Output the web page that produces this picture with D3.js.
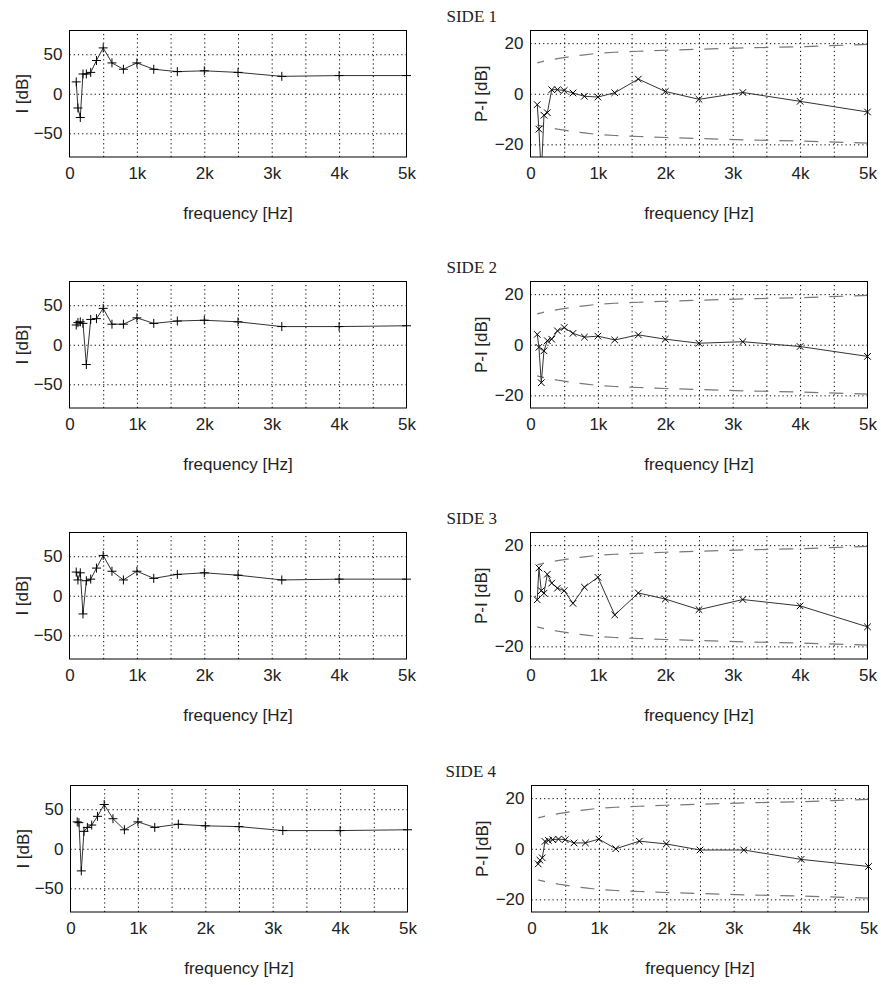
<!DOCTYPE html>
<html>
<head>
<meta charset="utf-8">
<script src="https://cdn.jsdelivr.net/npm/d3@7/dist/d3.min.js"></script>
<style>
  html, body { margin: 0; padding: 0; background: #fff; }
  svg { display: block; }
  .tick text { font-family: "Liberation Sans", Arial, Helvetica, sans-serif; }
</style>
</head>
<body>
<script>
// ---- data ----
const freqs = [100,125,160,200,250,315,400,500,630,800,1000,1250,1600,2000,2500,3150,4000,5000];
const sideTitles = ["SIDE 1","SIDE 2","SIDE 3","SIDE 4"];

const side1I  = [15,-18,-30,25,25,27,42,58,39,31,39,31,28,29,27,22,23,23];
const side2I  = [25,28,29,27,-25,32,33,46,26,26,34,27,30,31,29,23,23,24];
const side3I  = [30,20,29,-23,19,21,35,51,31,20,31,22,27,29,26,20,21,21];
const side4I  = [34,33,-28,22,27,30,41,56,38,24,34,27,31,29,28,23,23,24];

const side1PI = [-4.3,-14,-32,-8.5,-7.5,1.6,1.6,1.3,0.3,-1,-1.3,0.4,5.8,0.9,-2.2,0.5,-3,-7.2];
const side2PI = [4.1,-1,-15,-2.4,1.6,2.2,5.5,6.8,4.5,3,3.4,1.9,3.9,2.2,0.6,1.2,-0.7,-4.6];
const side3PI = [-1.6,11,2,1,8.5,5,3,2,-3,3.4,7.3,-7.6,1.1,-1.3,-5.5,-1.5,-4,-12.3];
const side4PI = [-6,-4.5,-3.6,2.9,3.3,3.6,3.8,3.6,2.3,2.3,3.8,0,3,1.9,-0.5,-0.5,-4.2,-7];

const limitUpper = [12.2,12.4,12.6,12.9,13.2,13.5,13.9,14.3,14.8,15.4,16.0,16.4,16.8,17.2,17.6,18.1,18.6,19.5];
const limitLower = [-12.3,-12.5,-12.7,-13.0,-13.3,-13.6,-14.0,-14.4,-14.9,-15.5,-16.1,-16.5,-16.9,-17.3,-17.7,-18.2,-18.7,-19.5];

const xTicks = [0,1000,2000,3000,4000,5000];
const xGrid = [500,1000,1500,2000,2500,3000,3500,4000,4500];
const yTicksI = [-50,0,50];
const yTicksPI = [-20,0,20];
const yDomainI = [-80,80];
const yDomainPI = [-25,25];

const iSeries = [side1I, side2I, side3I, side4I];
const piSeries = [side1PI, side2PI, side3PI, side4PI];

// ---- layout ----
const W = 881, H = 985;
const rowTops = [30.5, 281.5, 532.5, 785.5];
const rowShift = [0, 0, 0, 1];
const plotW = 337, plotH = 126.5;
const leftX = 69.5, rightX = 530.5;

const svg = d3.select("body").append("svg").attr("width", W).attr("height", H);
const sans = '"Liberation Sans", Arial, Helvetica, sans-serif';

const fmtK = d => d === 0 ? "0" : (d / 1000) + "k";

function panel(x0, y0, values, yDomain, yTicks, ylabel, marker, withLimits, idx) {
  const g = svg.append("g").attr("transform", `translate(${x0},${y0})`);
  const x = d3.scaleLinear().domain([0, 5000]).range([0, plotW]);
  const y = d3.scaleLinear().domain(yDomain).range([plotH, 0]);

  const clipId = "clip" + idx;
  g.append("clipPath").attr("id", clipId).append("rect")
    .attr("x", 0).attr("y", 0).attr("width", plotW).attr("height", plotH);

  // grid
  const gx = g.append("g").attr("transform", `translate(0,${plotH})`)
    .call(d3.axisBottom(x).tickValues(xGrid).tickSize(-plotH).tickFormat(""));
  gx.select(".domain").remove();
  gx.selectAll("line").attr("stroke", "#000").attr("stroke-width", 1).attr("stroke-dasharray", "1.2,3");
  const gy = g.append("g")
    .call(d3.axisLeft(y).tickValues(yTicks).tickSize(-plotW).tickFormat(""));
  gy.select(".domain").remove();
  gy.selectAll("line").attr("stroke", "#000").attr("stroke-width", 1).attr("stroke-dasharray", "1.2,3");

  // limit lines
  if (withLimits) {
    [limitUpper, limitLower].forEach(arr => {
      g.append("path")
        .attr("d", d3.line().x((d, i) => x(freqs[i])).y(d => y(d))(arr))
        .attr("fill", "none").attr("stroke", "#777").attr("stroke-width", 1.2)
        .attr("stroke-dasharray", "14,11").attr("stroke-dashoffset", 7)
        .attr("clip-path", `url(#${clipId})`);
    });
  }

  // data line
  g.append("path")
    .attr("d", d3.line().x((d, i) => x(freqs[i])).y(d => y(d))(values))
    .attr("fill", "none").attr("stroke", "#333").attr("stroke-width", 1)
    .attr("clip-path", `url(#${clipId})`);

  // markers
  const m = marker === "+" ? "M-4.5,0H4.5M0,-4.5V4.5" : "M-3.3,-3.3L3.3,3.3M-3.3,3.3L3.3,-3.3";
  g.selectAll(".mk").data(values.map((v, i) => [freqs[i], v]).filter(d => d[1] >= yDomain[0] && d[1] <= yDomain[1]))
    .enter().append("path")
    .attr("transform", d => `translate(${x(d[0])},${y(d[1])})`)
    .attr("d", m).attr("stroke", "#000").attr("stroke-width", 1).attr("fill", "none");

  // frame
  g.append("rect").attr("x", 0).attr("y", 0).attr("width", plotW).attr("height", plotH)
    .attr("fill", "none").attr("stroke", "#000").attr("stroke-width", 1);

  // tick labels
  const ax = g.append("g").attr("transform", `translate(0,${plotH})`)
    .call(d3.axisBottom(x).tickValues(xTicks).tickSize(0).tickPadding(10).tickFormat(fmtK));
  ax.select(".domain").remove();
  ax.selectAll("text").attr("font-size", 17).attr("fill", "#222").attr("font-family", sans);
  const ay = g.append("g")
    .call(d3.axisLeft(y).tickValues(yTicks).tickSize(0).tickPadding(7));
  ay.select(".domain").remove();
  ay.selectAll("text").attr("font-size", 17).attr("fill", "#222").attr("font-family", sans);

  // axis labels
  g.append("text").attr("x", plotW / 2).attr("y", plotH + 56)
    .attr("text-anchor", "middle").attr("dominant-baseline", "central")
    .attr("font-family", sans).attr("font-size", 17).attr("fill", "#222")
    .text("frequency [Hz]");
  g.append("text")
    .attr("transform", `translate(${ylabel === "I [dB]" ? -47.5 : -49},${plotH / 2}) rotate(-90)`)
    .attr("text-anchor", "middle").attr("dominant-baseline", "central")
    .attr("font-family", sans).attr("font-size", 17).attr("fill", "#222")
    .text(ylabel);
}

rowTops.forEach((top, r) => {
  const s = rowShift[r];
  panel(leftX + s, top, iSeries[r], yDomainI, yTicksI, "I [dB]", "+", false, "L" + r);
  panel(rightX + s, top, piSeries[r], yDomainPI, yTicksPI, "P-I [dB]", "x", true, "R" + r);
  svg.append("text").attr("x", 446.5 - s).attr("y", top - 9)
    .attr("font-family", '"Liberation Serif", "Times New Roman", serif')
    .attr("font-size", 17).attr("fill", "#222").text(sideTitles[r]);
});
</script>
</body>
</html>
